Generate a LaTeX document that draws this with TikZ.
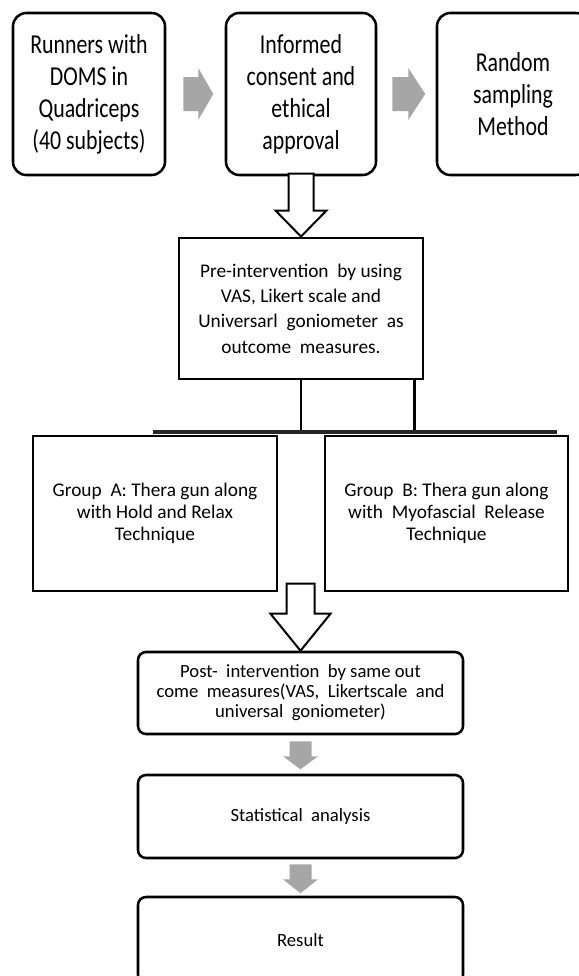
\documentclass[tikz,border=0pt]{standalone}
\usepackage{fontspec}
\setmainfont{Carlito}
\newfontfamily\topfont[FakeStretch=0.8]{Carlito}
\definecolor{arrowgray}{RGB}{166,166,166}
\tikzset{
  topbox/.style={draw, line width=1.9pt, rounded corners=10pt, minimum width=114pt, minimum height=121.5pt, inner sep=0pt, align=center, font=\topfont\fontsize{20.5}{24}\selectfont},
  sqbox/.style={draw, fill=white, line width=2.2pt, inner sep=0pt, align=center},
  lowbox/.style={draw, line width=1.9pt, rounded corners=6pt, minimum width=243.75pt, minimum height=61.5pt, inner sep=0pt, align=center, font=\fontsize{14}{15}\selectfont},
  grayarrow/.style={fill=arrowgray},
  whitearrow/.style={draw, fill=white, line width=1.5pt},
  conn/.style={line width=1.6pt},
  bar/.style={line width=2.4pt, color=black!85}
}
\begin{document}
\begin{tikzpicture}[x=0.75pt,y=0.75pt,yscale=-1,xscale=1]
\useasboundingbox (0,0) rectangle (579,976);
%Rounded Rect
\node[topbox] (run) at (89,94) {Runners with\\DOMS in\\Quadriceps\\(40 subjects)};
%Rounded Rect
\node[topbox, minimum width=112.5pt] (inf) at (301,94) {Informed\\consent and\\ethical\\approval};
%Rounded Rect
\node[topbox] (rnd) at (513,94) {Random\\sampling\\Method};
%Right Arrow
\fill[grayarrow] (run.east) ++(17,-17) -- ++(15,0) -- ++(0,-9) -- ++(15,26) -- ++(-15,26) -- ++(0,-9) -- ++(-15,0) -- cycle;
%Right Arrow
\fill[grayarrow] (inf.east) ++(15,-17) -- ++(16,0) -- ++(0,-9) -- ++(17,26) -- ++(-17,26) -- ++(0,-9) -- ++(-16,0) -- cycle;
%Shape: Rectangle
\node[sqbox, minimum width=183pt, minimum height=105.75pt, font=\fontsize{14.5}{19}\selectfont] (pre) at (301,308.5) {Pre-intervention~ by using\\VAS, Likert scale and\\Universarl~ goniometer~ as\\outcome~ measures.};
%Down Arrow
\draw[whitearrow] (pre.north) -- ++(-25.5,-26) -- ++(13,0) -- ++(0,-37) -- ++(25,0) -- ++(0,37) -- ++(13,0) -- cycle;
%Straight Lines
\coordinate (barL) at (153,432);
\coordinate (barR) at (557,432);
\draw[conn] (pre.south) -- (pre.south |- barL);
\draw[conn] ([xshift=-7.5pt]pre.south east) -- ([xshift=-7.5pt]pre.south east |- barL);
\draw[bar] (barL) -- (barR);
%Shape: Rectangle
\node[sqbox, minimum width=183pt, minimum height=116.25pt, font=\fontsize{14.5}{16.5}\selectfont] (grpA) at (155,513.5) {Group~ A: Thera gun along\\with Hold and Relax\\Technique};
%Shape: Rectangle
\node[sqbox, minimum width=182.25pt, minimum height=116.25pt, font=\fontsize{14.5}{16.5}\selectfont] (grpB) at (446.5,513.5) {Group~ B: Thera gun along\\with~ Myofascial~ Release\\Technique};
%Rounded Rect
\node[lowbox] (post) at (300.5,693) {Post-~ intervention~ by same out\\come~ measures(VAS,~ Likertscale~ and\\universal~ goniometer)};
%Down Arrow
\draw[whitearrow] (post.north) -- ++(-30,-37) -- ++(16,0) -- ++(0,-30) -- ++(28,0) -- ++(0,30) -- ++(16,0) -- cycle;
%Rounded Rect
\node[lowbox, minimum height=62.25pt] (stat) at (300.5,816.5) {Statistical~ analysis};
%Rounded Rect
\node[lowbox, minimum height=64.5pt] (res) at (300.5,940) {Result};
%Down Arrow
\fill[grayarrow] (post.south) ++(-11,6) -- ++(22,0) -- ++(0,15) -- ++(6.5,0) -- ++(-17.5,13) -- ++(-17.5,-13) -- ++(6.5,0) -- cycle;
%Down Arrow
\fill[grayarrow] (stat.south) ++(-11,5) -- ++(22,0) -- ++(0,15) -- ++(6.5,0) -- ++(-17.5,14) -- ++(-17.5,-14) -- ++(6.5,0) -- cycle;
\end{tikzpicture}
\end{document}
